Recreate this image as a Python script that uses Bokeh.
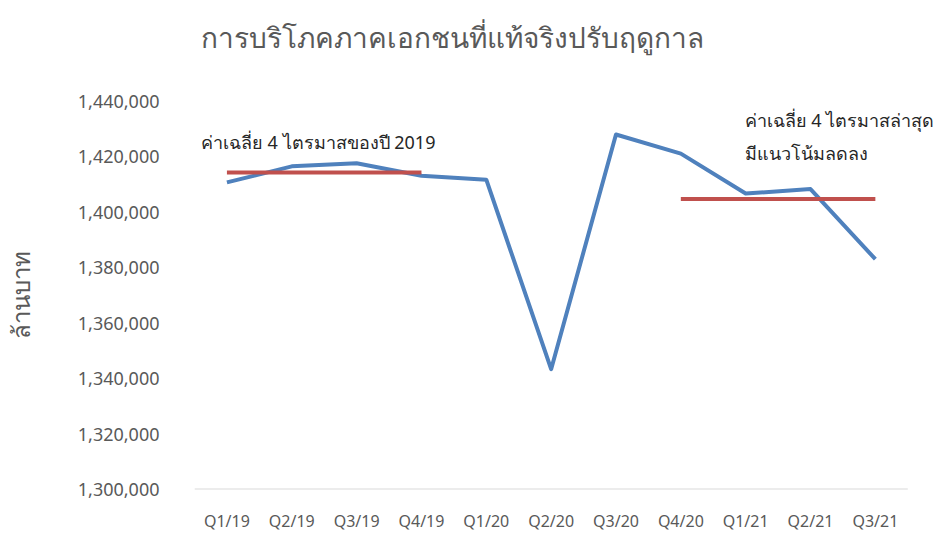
from bokeh.plotting import figure
from bokeh.models import Range1d, FixedTicker, NumeralTickFormatter, Label, Title, LinearAxis
from bokeh.embed import file_html
from bokeh.resources import INLINE

quarters = ["Q1/19", "Q2/19", "Q3/19", "Q4/19", "Q1/20", "Q2/20",
            "Q3/20", "Q4/20", "Q1/21", "Q2/21", "Q3/21"]
consumption = [1410800, 1416600, 1417700, 1413200, 1411800, 1343400,
               1428100, 1421200, 1406800, 1408400, 1383100]
avg_2019_quarters = ["Q1/19", "Q4/19"]
avg_2019 = [1414400, 1414400]
avg_recent_quarters = ["Q4/20", "Q3/21"]
avg_recent = [1404800, 1404800]
y_ticks = [1300000, 1320000, 1340000, 1360000, 1380000, 1400000, 1420000, 1440000]

title_text = "การบริโภคภาคเอกชนที่แท้จริงปรับฤดูกาล"
y_label = "ล้านบาท"
note_2019 = "ค่าเฉลี่ย 4 ไตรมาสของปี 2019"
note_recent_1 = "ค่าเฉลี่ย 4 ไตรมาสล่าสุด"
note_recent_2 = "มีแนวโน้มลดลง"

FONT = "Noto Sans"
GREY = "#595959"

pos = {q: i for i, q in enumerate(quarters)}
x_all = [pos[q] for q in quarters]

p = figure(width=941, height=537, output_backend="svg", toolbar_location=None,
           x_range=Range1d(-0.5, 11.02),
           y_range=Range1d(y_ticks[0], y_ticks[-1]),
           min_border_left=191, min_border_right=0, min_border_top=101, min_border_bottom=48)

# invisible spacer next to the plot area (one hidden tick, empty label)
spacer = LinearAxis(ticker=FixedTicker(ticks=[x_all[0]]), axis_line_color=None,
                    major_tick_line_color=None, minor_tick_line_color=None,
                    major_tick_out=45, minor_tick_out=0, major_tick_in=0,
                    major_label_overrides={x_all[0]: ""}, major_label_standoff=0,
                    major_label_text_font_size="1px")
p.add_layout(spacer, "above")
p.add_layout(Title(text=title_text, text_font=FONT, text_font_size="28px",
                   text_font_style="normal", text_color=GREY, align="left",
                   offset=6, standoff=2), "above")

p.outline_line_color = None
p.xgrid.grid_line_color = None
p.ygrid.grid_line_color = None

p.yaxis.ticker = FixedTicker(ticks=y_ticks)
p.yaxis.formatter = NumeralTickFormatter(format="0,0")
p.yaxis.axis_line_color = None
p.yaxis.major_tick_line_color = None
p.yaxis.minor_tick_line_color = None
p.yaxis.major_tick_out = 0
p.yaxis.minor_tick_out = 0
p.yaxis.major_label_standoff = 35
p.yaxis.major_label_text_font = FONT
p.yaxis.major_label_text_font_size = "18px"
p.yaxis.major_label_text_color = GREY
p.yaxis.axis_label = y_label
p.yaxis.axis_label_text_font = FONT
p.yaxis.axis_label_text_font_size = "24px"
p.yaxis.axis_label_text_font_style = "normal"
p.yaxis.axis_label_text_color = GREY
p.yaxis.axis_label_standoff = 38

xaxis = p.below[0]
xaxis.ticker = FixedTicker(ticks=x_all)
xaxis.major_label_overrides = {pos[q]: q for q in quarters}
xaxis.axis_line_color = None
xaxis.major_tick_line_color = None
xaxis.minor_tick_line_color = None
xaxis.major_tick_out = 0
xaxis.minor_tick_out = 0
xaxis.major_label_standoff = 20
xaxis.major_label_text_font = FONT
xaxis.major_label_text_font_size = "16px"
xaxis.major_label_text_color = GREY

# category axis baseline, spanning the category bands only
p.segment(x0=[x_all[0] - 0.5], y0=[y_ticks[0]], x1=[x_all[-1] + 0.5], y1=[y_ticks[0]],
          line_color="#D9D9D9", line_width=2)

p.line(x_all, consumption, line_color="#4F81BD", line_width=4, line_join="round")
p.line([pos[q] for q in avg_2019_quarters], avg_2019, line_color="#C0504D", line_width=4)
p.line([pos[q] for q in avg_recent_quarters], avg_recent, line_color="#C0504D", line_width=4)

def add_note(text, quarter, yval, dx):
    p.add_layout(Label(x=pos[quarter], y=yval, x_offset=dx, text=text,
                       text_font=FONT, text_font_size="18px", text_color="#262626",
                       text_align="left", text_baseline="middle"))

add_note(note_2019, "Q1/19", 1425500, -26)
add_note(note_recent_1, "Q1/21", 1433300, -1)
add_note(note_recent_2, "Q1/21", 1421500, -1)

open("out.html", "w").write(file_html(p, INLINE))
